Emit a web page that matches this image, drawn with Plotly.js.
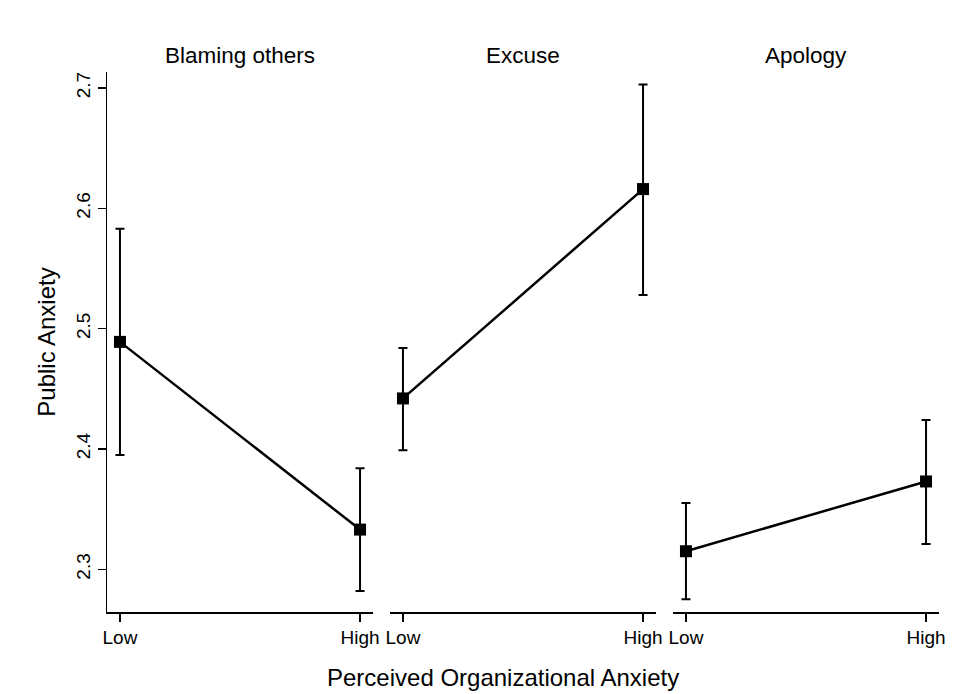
<!DOCTYPE html>
<html>
<head>
<meta charset="utf-8">
<script src="https://cdn.plot.ly/plotly-3.0.1.min.js"></script>
<style>
html,body{margin:0;padding:0;background:#fff;}
#chart{width:974px;height:694px;}
</style>
</head>
<body>
<div id="chart"></div>
<script>
// ---- Data ----
const categories = ["Low", "High"];
const panelTitles = ["Blaming others", "Excuse", "Apology"];

const blamingMean  = [2.489, 2.333];
const blamingUpper = [2.583, 2.384];
const blamingLower = [2.395, 2.282];

const excuseMean  = [2.442, 2.616];
const excuseUpper = [2.484, 2.703];
const excuseLower = [2.399, 2.528];

const apologyMean  = [2.315, 2.373];
const apologyUpper = [2.355, 2.424];
const apologyLower = [2.275, 2.321];

const yTickVals = [2.3, 2.4, 2.5, 2.6, 2.7];
const xTitle = "Perceived Organizational Anxiety";
const yTitle = "Public Anxiety";

// ---- Build ----
const FONT = "Liberation Sans, Arial, sans-serif";
const series = [
  {mean: blamingMean, upper: blamingUpper, lower: blamingLower},
  {mean: excuseMean,  upper: excuseUpper,  lower: excuseLower},
  {mean: apologyMean, upper: apologyUpper, lower: apologyLower}
];
const axisNames = ["x", "x2", "x3"];

const traces = series.map((s, i) => ({
  type: "scatter",
  mode: "lines+markers",
  x: categories,
  y: s.mean,
  xaxis: axisNames[i],
  yaxis: "y",
  line: {color: "#000", width: 2.5},
  marker: {symbol: "square", size: 12, color: "#000"},
  error_y: {
    type: "data",
    symmetric: false,
    array: s.upper.map((u, j) => u - s.mean[j]),
    arrayminus: s.mean.map((m, j) => m - s.lower[j]),
    color: "#000",
    thickness: 2,
    width: 4.5
  },
  showlegend: false,
  hoverinfo: "skip"
}));

const plotL = 107, plotR = 939, plotT = 72, plotB = 612;
const W = 974, H = 694;
const pw = plotR - plotL, ph = plotB - plotT;
const panelPx = [[107, 373], [390, 656], [673, 939]];
const domains = panelPx.map(p => [(p[0] - plotL) / pw, (p[1] - plotL) / pw]);

function xAxis(dom) {
  return {
    domain: dom,
    anchor: "y",
    type: "category",
    range: [-0.054, 1.054],
    showline: true,
    linecolor: "#000",
    linewidth: 1.5,
    ticks: "outside",
    ticklen: 8,
    tickwidth: 1.5,
    tickcolor: "#000",
    showgrid: false,
    zeroline: false,
    tickfont: {family: FONT, size: 19, color: "#000"},
    fixedrange: true
  };
}

const annotations = panelTitles.map((t, i) => ({
  text: t,
  xref: "paper", yref: "paper",
  x: (domains[i][0] + domains[i][1]) / 2,
  y: 1 + (plotT - 56) / ph,
  xanchor: "center", yanchor: "middle",
  showarrow: false,
  font: {family: FONT, size: 22.5, color: "#000"}
}));
annotations.push({
  text: xTitle,
  xref: "paper", yref: "paper",
  x: (503 - plotL) / pw,
  y: -(677 - plotB) / ph,
  xanchor: "center", yanchor: "middle",
  showarrow: false,
  font: {family: FONT, size: 24, color: "#000"}
});

const layout = {
  width: W, height: H,
  margin: {l: plotL, r: W - plotR, t: plotT, b: H - plotB, pad: 0},
  paper_bgcolor: "#fff",
  plot_bgcolor: "#fff",
  font: {family: FONT, color: "#000"},
  xaxis: xAxis(domains[0]),
  xaxis2: xAxis(domains[1]),
  xaxis3: xAxis(domains[2]),
  yaxis: {
    anchor: "x",
    range: [2.2645, 2.7133],
    tickvals: yTickVals,
    tickformat: ".1f",
    tickangle: -90,
    showline: true,
    linecolor: "#000",
    linewidth: 1.5,
    ticks: "outside",
    ticklen: 8,
    tickwidth: 1.5,
    tickcolor: "#000",
    showgrid: false,
    zeroline: false,
    tickfont: {family: FONT, size: 19, color: "#000"},
    title: {text: yTitle, font: {family: FONT, size: 24, color: "#000"}, standoff: 10},
    automargin: false,
    fixedrange: true
  },
  annotations: annotations
};

Plotly.newPlot("chart", traces, layout, {displayModeBar: false, staticPlot: true});
</script>
</body>
</html>
